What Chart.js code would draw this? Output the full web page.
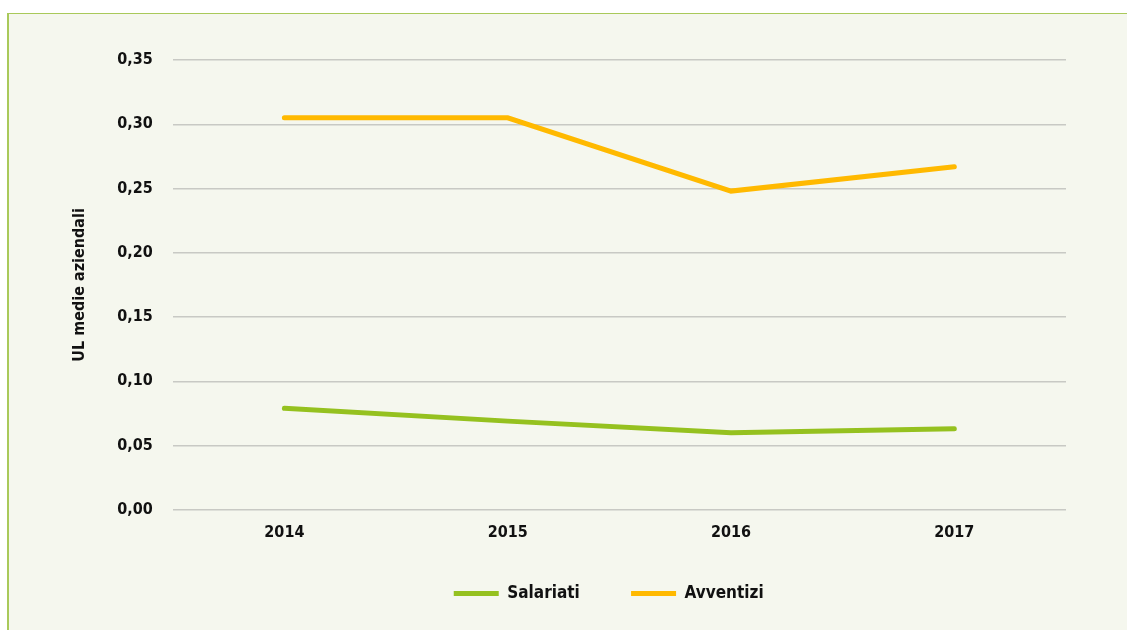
<!DOCTYPE html>
<html>
<head>
<meta charset="utf-8">
<script src="https://cdn.jsdelivr.net/npm/chart.js@4.4.0/dist/chart.umd.min.js"></script>
<style>
  html, body { margin: 0; padding: 0; background: #ffffff; }
  #panel {
    position: absolute; left: 7px; top: 13px; width: 1120px; height: 617px;
    background: #f5f7ee;
    border-top: 1px solid #a9c95a;
    border-left: 2px solid #a9c95a;
    box-sizing: border-box;
  }
  #wrap { position: absolute; left: 0; top: 0; width: 1127px; height: 630px; }
</style>
</head>
<body>
<div id="panel"></div>
<div id="wrap"><canvas id="myChart" width="1127" height="630"></canvas></div>
<script>
// Data
const years = ['2014', '2015', '2016', '2017'];
const salariati = [0.079, 0.069, 0.060, 0.063];
const avventizi = [0.305, 0.305, 0.248, 0.267];

const FONT = "'DejaVu Sans Condensed', 'Liberation Sans Narrow', sans-serif";
const GREEN = '#95c11f';
const YELLOW = '#ffb900';

const data = {
    labels: years,
    datasets: [{
        label: 'Salariati',
        data: salariati,
        borderColor: GREEN,
        backgroundColor: GREEN,
        borderWidth: 5,
        borderCapStyle: 'round',
        pointRadius: 0,
        pointStyle: 'line',
        tension: 0,
    }, {
        label: 'Avventizi',
        data: avventizi,
        borderColor: YELLOW,
        backgroundColor: YELLOW,
        borderWidth: 5,
        borderCapStyle: 'round',
        pointRadius: 0,
        pointStyle: 'line',
        tension: 0,
    }],
};

const config = {
    type: 'line',
    data: data,
    options: {
        responsive: false,
        animation: false,
        layout: { padding: { left: 70, right: 61, top: 60, bottom: 18 } },
        scales: {
            x: {
                offset: true,
                grid: { display: false, drawTicks: false },
                border: { display: false },
                ticks: { color: '#111', font: { family: FONT, size: 16, weight: 'bold' }, padding: 13 },
            },
            y: {
                min: 0,
                max: 0.35,
                grid: { color: '#c8c9c4', lineWidth: 1.5, drawTicks: false },
                border: { display: false },
                ticks: {
                    stepSize: 0.05,
                    color: '#111',
                    font: { family: FONT, size: 16, weight: 'bold' },
                    padding: 20,
                    callback: function (v) { return v.toFixed(2).replace('.', ','); },
                },
                title: {
                    display: true,
                    text: 'UL medie aziendali',
                    color: '#111',
                    font: { family: FONT, size: 16, weight: 'bold' },
                    padding: { top: 0, bottom: 8 },
                },
            },
        },
        plugins: {
            legend: {
                position: 'bottom',
                fullSize: false,
                labels: {
                    color: '#111',
                    font: { family: FONT, size: 17, weight: 'bold' },
                    usePointStyle: true,
                    pointStyleWidth: 45,
                    padding: 30,
                    // extra trailing room so the two entries sit further apart
                    generateLabels: function (chart) {
                        const items = Chart.defaults.plugins.legend.labels.generateLabels(chart);
                        items.forEach(function (it) { it.text = it.text + '    '; });
                        return items;
                    },
                },
            },
            tooltip: { enabled: false },
        },
    },
};

const ctx = document.getElementById('myChart').getContext('2d');
const myChart = new Chart(ctx, config);
</script>
</body>
</html>
